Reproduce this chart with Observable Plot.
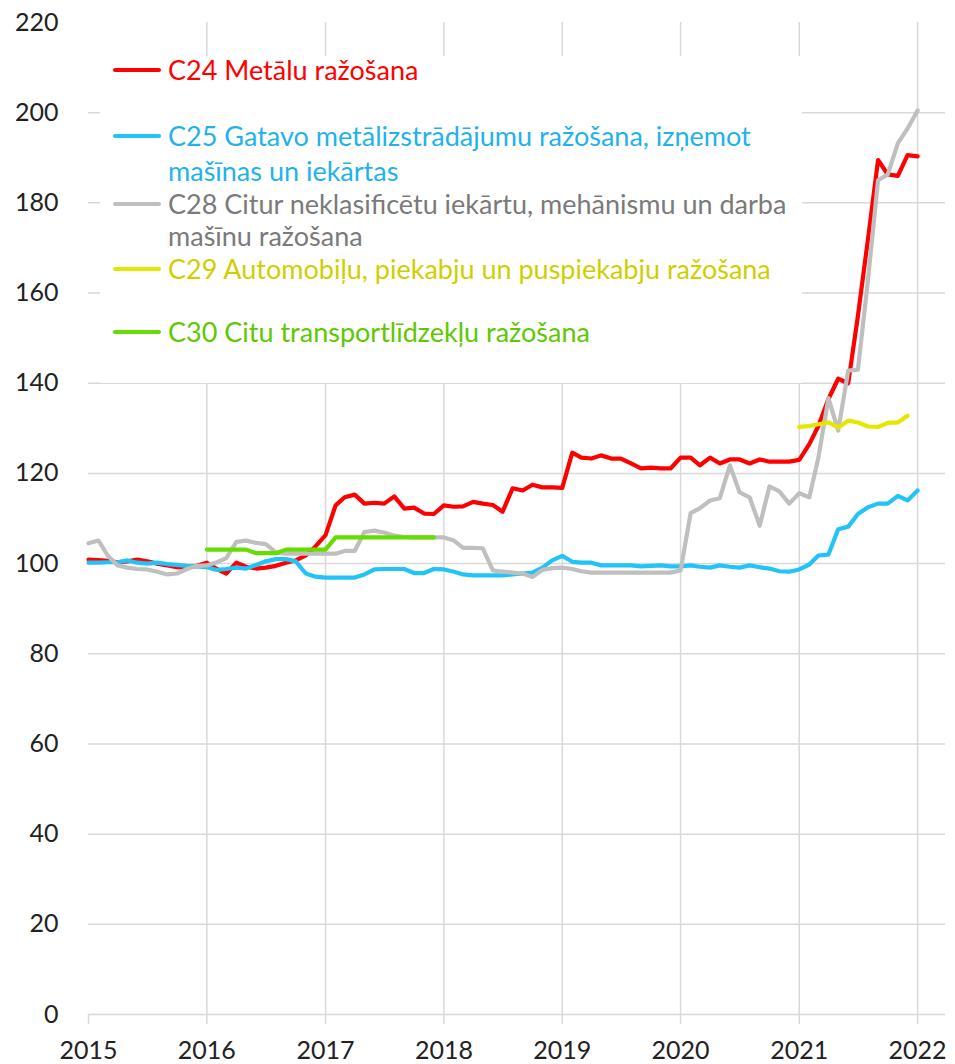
<!DOCTYPE html>
<html>
<head>
<meta charset="utf-8">
<script src="https://cdn.jsdelivr.net/npm/d3@7"></script>
<script src="https://cdn.jsdelivr.net/npm/@observablehq/plot@0.6"></script>
<style>
  html, body { margin: 0; padding: 0; background: #fff; }
  #wrap { position: relative; width: 955px; height: 1064px; font-family: Lato, "Noto Sans", sans-serif; }
  #legend { position: absolute; left: 100px; top: 56px; width: 702px; height: 327px; background: #fff; }
  .swatch { position: absolute; left: 13px; width: 48px; height: 4px; border-radius: 2px; }
  .line { position: absolute; left: 68px; font-size: 27px; line-height: 26px; height: 26px; white-space: nowrap; }
</style>
</head>
<body>
<div id="wrap"></div>
<script>
// ---- data ----
const years = [2015, 2016, 2017, 2018, 2019, 2020, 2021, 2022];
const yTicks = [0, 20, 40, 60, 80, 100, 120, 140, 160, 180, 200, 220];
const gridValues = [0, 20, 40, 60, 80, 100, 120, 140, 160, 180, 200];

const seriesNames = ["C24", "C25", "C28", "C29", "C30"];
const legendLines = [
  ["C24 Metālu ražošana"],
  ["C25 Gatavo metālizstrādājumu ražošana, izņemot", "mašīnas un iekārtas"],
  ["C28 Citur neklasificētu iekārtu, mehānismu un darba", "mašīnu ražošana"],
  ["C29 Automobiļu, piekabju un puspiekabju ražošana"],
  ["C30 Citu transportlīdzekļu ražošana"]
];
const lineColors = ["#FF0000", "#22C3F8", "#BFBFBF", "#E6E600", "#66DD00"];
const textColors = ["#FF0000", "#1FB2EC", "#7A7A7A", "#CFCF00", "#5EC800"];

// start (year, month index) of each monthly series
const seriesStart = [[2015, 0], [2015, 0], [2015, 0], [2021, 0], [2016, 0]];

const c24 = [
  100.9, 100.8, 100.6, 100.3, 100.5, 100.9, 100.5, 100.0, 99.6, 99.2, 99.1, 99.5,
  100.2, 98.8, 97.8, 100.2, 99.3, 98.9, 99.1, 99.5, 100.2, 100.7, 101.8, 103.8,
  106.3, 112.9, 114.7, 115.3, 113.3, 113.5, 113.3, 114.9, 112.2, 112.4, 111.1, 111.0,
  112.9, 112.6, 112.7, 113.7, 113.3, 113.0, 111.5, 116.7, 116.2, 117.5, 116.9, 116.9,
  116.8, 124.6, 123.5, 123.3, 124.0, 123.3, 123.3, 122.2, 121.1, 121.3, 121.1, 121.1,
  123.5, 123.5, 121.8, 123.5, 122.2, 123.1, 123.1, 122.2, 123.1, 122.6, 122.6, 122.6,
  123.0, 126.5, 130.5, 136.5, 141.0, 140.0, 155.0, 172.0, 189.5, 186.3, 186.0, 190.6,
  190.3
];
const c25 = [
  100.2, 100.2, 100.3, 100.3, 100.7, 100.2, 100.0, 100.2, 99.9, 99.7, 99.5, 99.4,
  99.2, 98.6, 98.8, 99.1, 98.9, 99.7, 100.5, 101.0, 101.0, 100.5, 97.8, 97.1,
  96.9, 96.9, 96.9, 96.9, 97.6, 98.7, 98.8, 98.8, 98.8, 97.9, 97.9, 98.8,
  98.7, 98.2, 97.6, 97.4, 97.4, 97.4, 97.4, 97.6, 97.8, 98.0, 99.1, 100.7,
  101.7, 100.4, 100.2, 100.2, 99.6, 99.6, 99.6, 99.6, 99.4, 99.5, 99.6, 99.4,
  99.4, 99.6, 99.3, 99.1, 99.6, 99.3, 99.1, 99.6, 99.2, 98.9, 98.3, 98.2,
  98.7, 99.8, 101.8, 102.0, 107.6, 108.2, 111.0, 112.5, 113.3, 113.3, 115.0, 114.0,
  116.2
];
const c28 = [
  104.5, 105.1, 101.8, 99.6, 99.1, 98.8, 98.7, 98.2, 97.6, 97.8, 98.8, 99.5,
  99.6, 100.3, 101.2, 104.8, 105.1, 104.6, 104.3, 102.5, 102.2, 102.2, 102.2, 102.2,
  102.2, 102.2, 102.8, 102.8, 107.0, 107.3, 106.9, 106.2, 105.9, 105.8, 105.8, 105.8,
  105.8, 105.1, 103.5, 103.5, 103.4, 98.5, 98.2, 98.0, 97.8, 97.0, 98.6, 99.0,
  99.1, 98.8, 98.3, 98.0, 98.0, 98.0, 98.0, 98.0, 98.0, 98.0, 98.0, 98.0,
  98.5, 111.2, 112.3, 114.0, 114.5, 121.8, 115.8, 114.7, 108.4, 117.1, 116.0, 113.3,
  115.6, 114.7, 123.5, 136.7, 129.5, 142.8, 143.0, 163.0, 185.0, 186.3, 193.2, 196.5,
  200.5
];
const c29 = [130.3, 130.5, 130.9, 131.3, 130.2, 131.7, 131.3, 130.4, 130.3, 131.2, 131.3, 132.8];
const c30 = [
  103.1, 103.1, 103.1, 103.1, 103.1, 102.3, 102.3, 102.3, 103.1, 103.1, 103.1, 103.1,
  103.1, 105.8, 105.8, 105.8, 105.8, 105.8, 105.8, 105.8, 105.8, 105.8, 105.8, 105.8
];
const seriesValues = [c24, c25, c28, c29, c30];

// ---- build table ----
const rows = [];
seriesValues.forEach((vals, s) => {
  const [y0, m0] = seriesStart[s];
  vals.forEach((v, i) => {
    rows.push({ series: seriesNames[s], date: new Date(Date.UTC(y0, m0 + i, 1)), value: v });
  });
});

const yearDates = years.map(y => new Date(Date.UTC(y, 0, 1)));
const gridYears = yearDates.slice(1);

const chart = Plot.plot({
  width: 955,
  height: 1064,
  marginLeft: 88,
  marginRight: 10,
  marginTop: 22,
  marginBottom: 50,
  style: { fontFamily: "Lato, 'Noto Sans', sans-serif", fontSize: "25px", color: "#222", background: "#fff" },
  x: { type: "utc", domain: [new Date(Date.UTC(2015, 0, 1)), new Date(Date.UTC(2022, 2, 28))] },
  y: { domain: [0, 220] },
  color: { domain: seriesNames, range: lineColors },
  marks: [
    Plot.gridY(gridValues, { stroke: "#D9D9D9", strokeOpacity: 1, strokeWidth: 1.5 }),
    Plot.gridX(gridYears, { stroke: "#D9D9D9", strokeOpacity: 1, strokeWidth: 1.5 }),
    Plot.axisY(yTicks, { tickSize: 0, tickPadding: 30, label: null, fill: "#222" }),
    Plot.axisX(yearDates, { tickSize: 10, tickPadding: 17, label: null, stroke: "#D9D9D9", strokeWidth: 1.5, fill: "#222",
      tickFormat: d => String(d.getUTCFullYear()) }),
    ...seriesNames.map(name =>
      Plot.line(rows.filter(r => r.series === name), {
        x: "date", y: "value", stroke: "series", strokeWidth: 4.2,
        strokeLinejoin: "round", strokeLinecap: "round"
      })
    )
  ]
});

const wrap = document.getElementById("wrap");
wrap.appendChild(chart);

// ---- legend (centres of each text line, relative to legend box top) ----
const legend = document.createElement("div");
legend.id = "legend";
const lineCenters = [[14], [80, 115], [148, 180], [213], [276]];
seriesNames.forEach((name, i) => {
  const sw = document.createElement("div");
  sw.className = "swatch";
  sw.style.background = lineColors[i];
  sw.style.top = (lineCenters[i][0] - 2) + "px";
  legend.appendChild(sw);
  legendLines[i].forEach((txt, j) => {
    const ln = document.createElement("div");
    ln.className = "line";
    ln.style.color = textColors[i];
    ln.style.top = (lineCenters[i][j] - 13) + "px";
    ln.textContent = txt;
    legend.appendChild(ln);
  });
});
wrap.appendChild(legend);
</script>
</body>
</html>
